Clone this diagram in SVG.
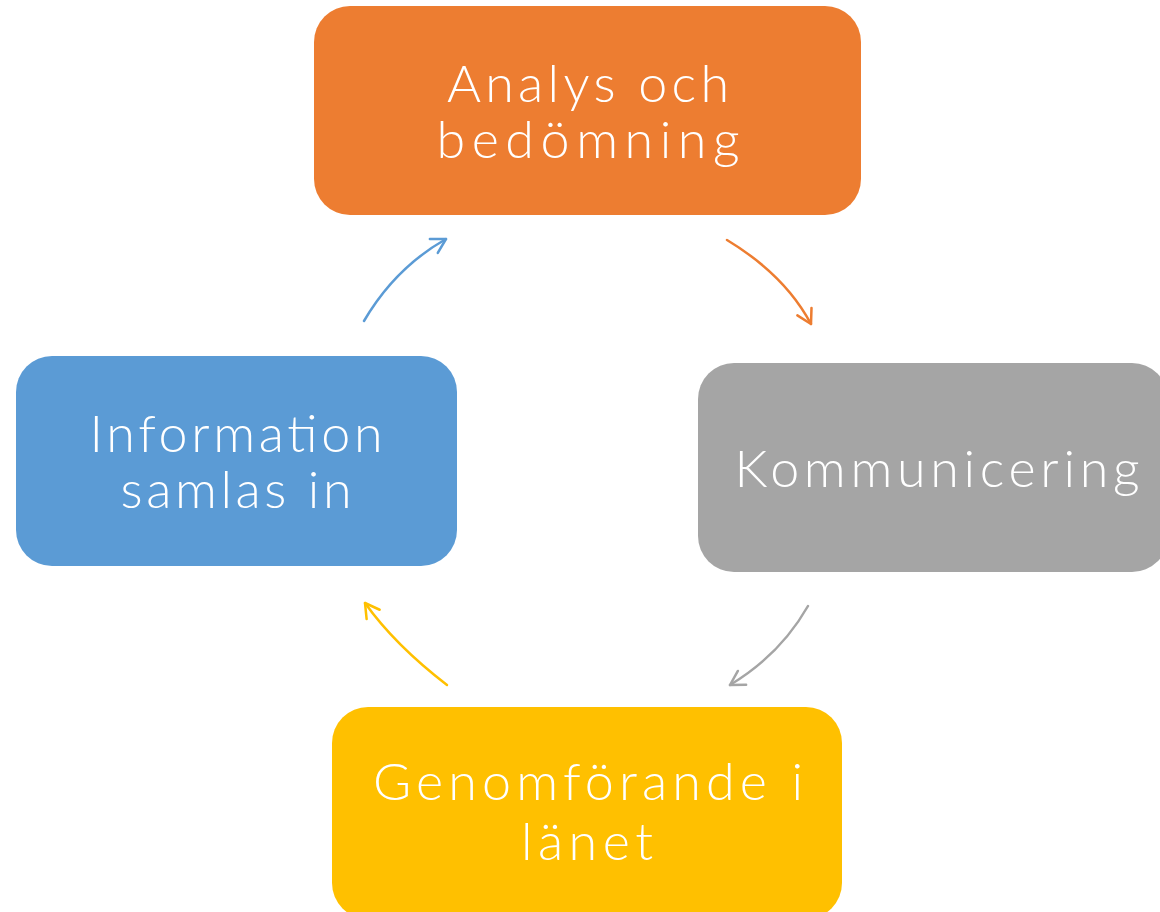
<svg xmlns="http://www.w3.org/2000/svg" width="1160" height="912" viewBox="0 0 1160 912">
<defs>
<style>
.box{stroke:none}
.lbl{font-family:"Lato","Liberation Sans",sans-serif;font-weight:300;font-size:52px;fill:#ffffff;text-anchor:middle}
.con{fill:none;stroke-width:2.5;stroke-linecap:round}
</style>
<marker id="mo" viewBox="0 0 20 20" refX="17" refY="10" markerWidth="20" markerHeight="20" markerUnits="userSpaceOnUse" orient="auto"><path d="M3,2 L17,10 L3,18" fill="none" stroke="#ED7D31" stroke-width="2.5" stroke-linecap="round" stroke-linejoin="round"/></marker>
<marker id="mg" viewBox="0 0 20 20" refX="17" refY="10" markerWidth="20" markerHeight="20" markerUnits="userSpaceOnUse" orient="auto"><path d="M3,2 L17,10 L3,18" fill="none" stroke="#A5A5A5" stroke-width="2.5" stroke-linecap="round" stroke-linejoin="round"/></marker>
<marker id="my" viewBox="0 0 20 20" refX="17" refY="10" markerWidth="20" markerHeight="20" markerUnits="userSpaceOnUse" orient="auto"><path d="M3,2 L17,10 L3,18" fill="none" stroke="#FFC000" stroke-width="2.5" stroke-linecap="round" stroke-linejoin="round"/></marker>
<marker id="mb" viewBox="0 0 20 20" refX="17" refY="10" markerWidth="20" markerHeight="20" markerUnits="userSpaceOnUse" orient="auto"><path d="M3,2 L17,10 L3,18" fill="none" stroke="#5B9BD5" stroke-width="2.5" stroke-linecap="round" stroke-linejoin="round"/></marker>
</defs>
<rect width="1160" height="912" fill="#ffffff"/>
<g id="node-analys">
<rect class="box" x="314" y="6" width="547" height="209" rx="36" fill="#ED7D31"/>
<text class="lbl" x="588" y="102" textLength="282" lengthAdjust="spacing">Analys och</text>
<text class="lbl" x="588" y="158" textLength="303" lengthAdjust="spacing">bedömning</text>
</g>
<g id="node-kommunicering">
<rect class="box" x="698" y="363" width="470" height="209" rx="36" fill="#A5A5A5"/>
<text class="lbl" x="937" y="487" textLength="405" lengthAdjust="spacing">Kommunicering</text>
</g>
<g id="node-genomforande">
<rect class="box" x="332" y="707" width="510" height="212" rx="36" fill="#FFC000"/>
<text class="lbl" x="588" y="800" textLength="430" lengthAdjust="spacing">Genomförande i</text>
<text class="lbl" x="587" y="860" textLength="132" lengthAdjust="spacing">länet</text>
</g>
<g id="node-information">
<rect class="box" x="16" y="356" width="441" height="210" rx="36" fill="#5B9BD5"/>
<text class="lbl" x="236" y="452" textLength="293" lengthAdjust="spacing">Information</text>
<text class="lbl" x="236" y="508" textLength="231" lengthAdjust="spacing">samlas in</text>
</g>
<g id="connectors">
<path class="con" stroke="#ED7D31" d="M727,240 Q785,275 811,324" marker-end="url(#mo)"/>
<path class="con" stroke="#A5A5A5" d="M808,606 Q780,655 730,685" marker-end="url(#mg)"/>
<path class="con" stroke="#FFC000" d="M447,685 Q395,645 365,603" marker-end="url(#my)"/>
<path class="con" stroke="#5B9BD5" d="M364,321 Q395,268 446,239" marker-end="url(#mb)"/>
</g>
</svg>
